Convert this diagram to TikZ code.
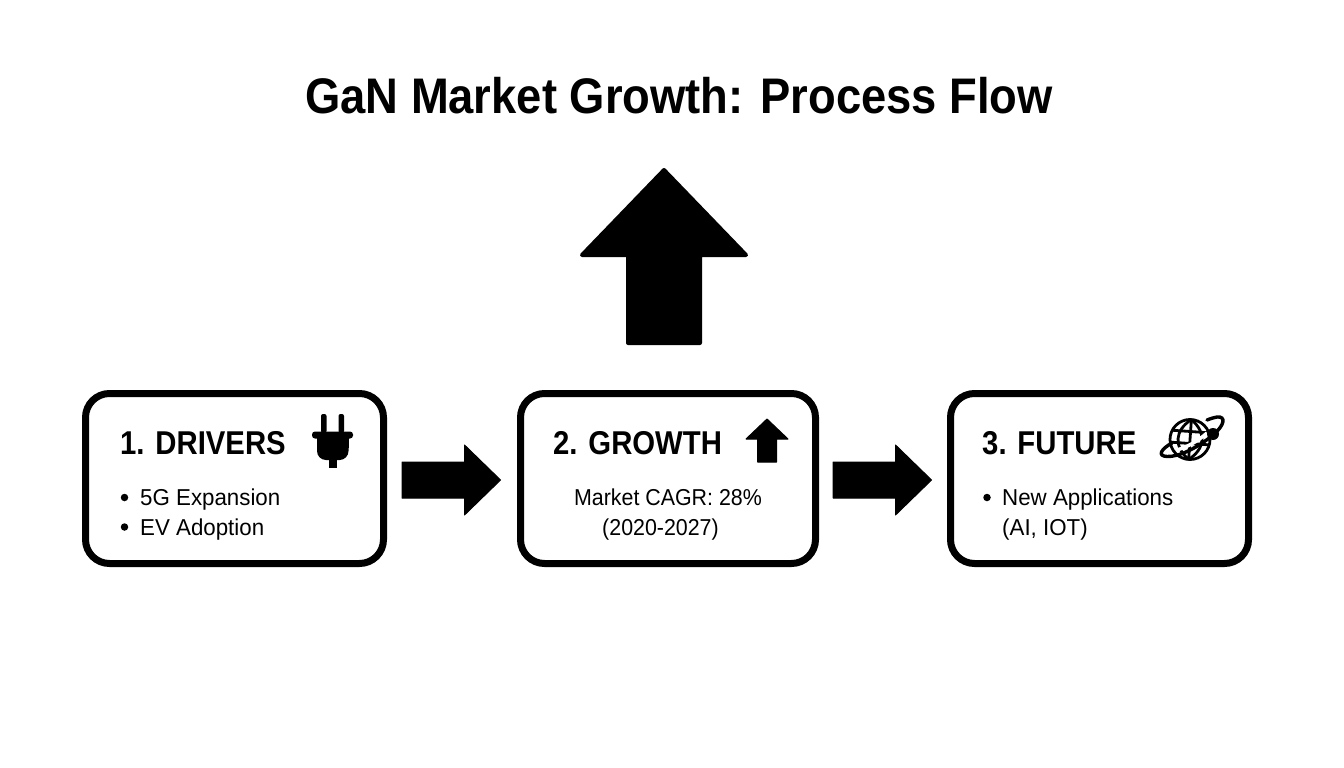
\documentclass[tikz,border=0pt]{standalone}
\usepackage{fontspec}
\setmainfont{Liberation Sans}
\newfontfamily\titlefont[FakeStretch=0.907]{Liberation Sans Bold}
\newfontfamily\headfont[FakeStretch=0.888]{Liberation Sans Bold}
\newfontfamily\bodyfont[FakeStretch=0.97]{Liberation Sans}
\newfontfamily\midfont[FakeStretch=0.93]{Liberation Sans}
\begin{document}
\begin{tikzpicture}[x=1pt,y=-1pt,
  card/.style={draw=black,line width=7pt,rounded corners=24pt,fill=white},
  solid shape/.style={fill=black,draw=black,line width=1pt,line join=round},
  big shape/.style={fill=black,draw=black,line width=4pt,line join=round},
  titletext/.style={font=\fontsize{50}{50}\titlefont,anchor=base,inner sep=0pt},
  headtext/.style={font=\fontsize{33}{33}\headfont,anchor=base west,inner sep=0pt},
  bodytext/.style={font=\fontsize{23}{23}\bodyfont,anchor=base west,inner sep=0pt},
  bodymid/.style={font=\fontsize{23}{23}\midfont,anchor=base,inner sep=0pt},
  bul/.style={circle,fill=black,inner sep=0pt,minimum size=7.5pt},
  glyph/.style={line width=2.8pt,draw=black}]
\useasboundingbox (0,0) rectangle (1344,768);
\fill[white] (0,0) rectangle (1344,768);
\node[titletext] (title) at (679,113) {GaN Market Growth: Process Flow};
% cards
\draw[card] (85.5,393.5) rectangle (383.5,563.5);
\draw[card] (520.5,393.5) rectangle (815.5,563.5);
\draw[card] (950.5,393.5) rectangle (1248.5,563.5);
% big arrow
\path[big shape] (664,170) -- (746,255) -- (700,255) -- (700,343) -- (628,343) -- (628,255) -- (582,255) -- cycle;
% flow arrows
\path[solid shape] (402,462) -- (464.5,462) -- (464.5,445) -- (500.5,480) -- (464.5,515) -- (464.5,498) -- (402,498) -- cycle;
\path[solid shape] (833,462) -- (895.5,462) -- (895.5,445) -- (931.5,480) -- (895.5,515) -- (895.5,498) -- (833,498) -- cycle;
% card 1
\node[headtext] (h1) at (120,454) {1. DRIVERS};
\node[bul] (b1) at (124.5,497.5) {};
\node[bodytext] (t1) at (140,505.5) {5G Expansion};
\node[bul] (b2) at (124.5,527) {};
\node[bodytext] (t2) at (140,535.5) {EV Adoption};
% plug
\fill[black,rounded corners=2pt] (321,414) rectangle (326.5,433);
\fill[black,rounded corners=2pt] (338.5,414) rectangle (344,433);
\fill[black,rounded corners=3pt] (312,431.5) rectangle (353,438.5);
\fill[black,rounded corners=9pt] (317,436) -- (348.5,436) -- (348.5,460) -- (317,460) -- cycle;
\fill[black] (317,436) rectangle (348.5,448);
\fill[black] (328.5,456) rectangle (336.5,468);
% card 2
\node[headtext] (h2) at (553,454) {2. GROWTH};
\node[bodymid] (t3) at (668,505.5) {Market CAGR: 28\%};
\node[bodymid] (t4) at (660.5,535.5) {(2020-2027)};
\path[solid shape] (767,419) -- (788,439) -- (776.5,439) -- (776.5,462) -- (757.5,462) -- (757.5,439) -- (746,439) -- cycle;
% card 3
\node[headtext] (h3) at (982,454) {3. FUTURE};
\node[bul] (b3) at (987,497.5) {};
\node[bodytext] (t5) at (1002,505.5) {New Applications};
\node[bodytext] (t6) at (1002,535.5) {(AI, IOT)};
% globe
\draw[glyph] (1190,439.5) circle (20);
\begin{scope}[shift={(1190,439.5)},rotate=-4]
\draw[glyph] (0,-20) .. controls (-16,-8) and (-16,8) .. (0,20);
\draw[glyph] (0,-20) .. controls (16,-8) and (16,8) .. (0,20);
\draw[glyph] (0,-20) -- (0,20);
\draw[glyph] (-18,-8) -- (18,-8);
\draw[glyph] (-19,4) -- (19,4);
\end{scope}
% orbit
\draw[white,line width=3.5pt] (1176,450) .. controls (1186,448) and (1198,441) .. (1207,433);
\draw[black,line width=3.4pt,line cap=round] (1172,443) .. controls (1161,449) and (1157,456) .. (1167,456.5) .. controls (1179,457) and (1197,448) .. (1213,435) .. controls (1225,425) and (1226,416) .. (1217,417) .. controls (1214,417.5) and (1211,418.5) .. (1207,420);
\fill[black] (1213,434) circle (6);
\end{tikzpicture}
\end{document}
